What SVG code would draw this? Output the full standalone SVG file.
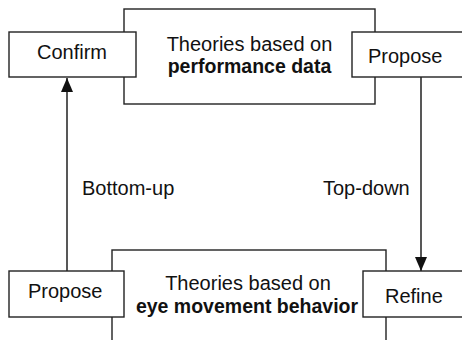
<svg xmlns="http://www.w3.org/2000/svg" width="462" height="340" viewBox="0 0 462 340">
<style>
.box{fill:#fff;stroke:#222;stroke-width:1.4}
.t{font-family:"Liberation Sans",Arial,sans-serif;font-size:20px;fill:#111}
.b{font-family:"Liberation Sans",Arial,sans-serif;font-size:19.5px;font-weight:bold;fill:#111}
.c{stroke:#111;stroke-width:1.4;fill:none}
</style>
<defs>
<marker id="ah" markerWidth="14" markerHeight="12" refX="14" refY="6" orient="auto" markerUnits="userSpaceOnUse" viewBox="0 0 14 12">
<path d="M0,0 L14,6 L0,12 Z" fill="#111"/>
</marker>
</defs>
<rect width="462" height="340" fill="#fff"/>
<g id="perf-theories">
<rect class="box" x="124" y="9" width="251" height="95"/>
<text class="t" x="249.5" y="51" text-anchor="middle">Theories based on</text>
<text class="b" x="249.5" y="73" text-anchor="middle">performance data</text>
</g>
<g id="eye-theories">
<rect class="box" x="112" y="250" width="274" height="100"/>
<text class="t" x="248" y="290" text-anchor="middle">Theories based on</text>
<text class="b" x="247" y="313" text-anchor="middle">eye movement behavior</text>
</g>
<g id="connectors">
<line class="c" x1="67" y1="271" x2="67" y2="78" marker-end="url(#ah)"/>
<line class="c" x1="421" y1="77" x2="421" y2="271" marker-end="url(#ah)"/>
</g>
<g id="confirm">
<rect class="box" x="9" y="32" width="127" height="45"/>
<text class="t" x="37" y="59">Confirm</text>
</g>
<g id="propose-top">
<rect class="box" x="352" y="32" width="120" height="45"/>
<text class="t" x="368" y="63">Propose</text>
</g>
<g id="propose-bottom">
<rect class="box" x="9" y="271" width="115" height="46"/>
<text class="t" x="28" y="298">Propose</text>
</g>
<g id="refine">
<rect class="box" x="363" y="271" width="110" height="46"/>
<text class="t" x="385" y="303">Refine</text>
</g>
<g id="labels">
<text class="t" x="82" y="195">Bottom-up</text>
<text class="t" x="323" y="195" font-size="19.5">Top-down</text>
</g>
</svg>
